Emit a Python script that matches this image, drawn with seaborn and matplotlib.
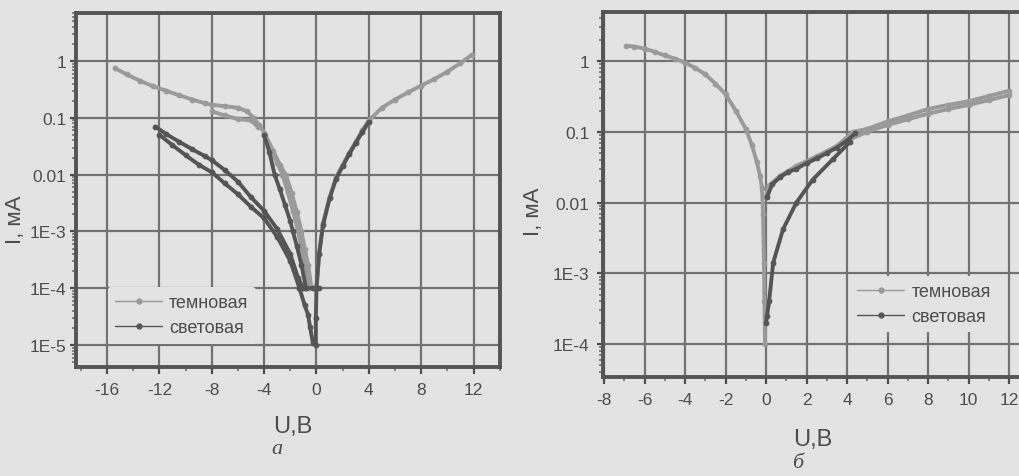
import matplotlib
matplotlib.use("Agg")
import matplotlib.pyplot as plt
from matplotlib.lines import Line2D
from matplotlib.ticker import FixedLocator, FixedFormatter, LogLocator, MultipleLocator, NullFormatter
import pandas as pd
import seaborn as sns

# ---------------- data ----------------
# panel a
dark_a_up_u = [-15.4, -14.5, -13.5, -12.5, -11.5, -10.5, -9.5, -8.5, -8.0, -7.0, -6.0, -5.3, -4.8, -4.4, -4.0]
dark_a_up_i = [0.75, 0.58, 0.45, 0.36, 0.30, 0.25, 0.21, 0.18, 0.17, 0.16, 0.15, 0.13, 0.10, 0.075, 0.055]
dark_a_lo_u = [-8.0, -7.0, -6.0, -5.0, -4.5]
dark_a_lo_i = [0.13, 0.11, 0.095, 0.09, 0.07]
dark_a_dn1_u = [-4.0, -3.5, -3.0, -2.6, -2.2, -1.8, -1.4, -1.15, -0.9, -0.6]
dark_a_dn1_i = [0.05, 0.027, 0.016, 0.01, 5e-3, 2.3e-3, 1e-3, 5e-4, 2.6e-4, 1e-4]
dark_a_dn2_u = [-3.9, -3.3, -2.8, -2.35, -1.9, -1.5, -1.15, -0.9, -0.64, -0.38]
dark_a_dn2_i = [0.05, 0.026, 0.015, 0.01, 4.8e-3, 2.2e-3, 1e-3, 5e-4, 2.6e-4, 1e-4]
dark_a_pos_u = [0.0, 0.2, 0.5, 1.0, 1.5, 2.0, 2.5, 3.0, 3.5, 4.0, 5.0, 6.0, 7.0, 8.0, 9.0, 10.0, 11.0, 11.9]
dark_a_pos_i = [1e-4, 4e-4, 1.4e-3, 4e-3, 9e-3, 0.015, 0.024, 0.038, 0.06, 0.09, 0.15, 0.21, 0.28, 0.37, 0.48, 0.65, 0.92, 1.3]

light_a_up_u = [-12.3, -11.5, -10.5, -9.5, -8.5, -8.0, -7.0, -6.0, -5.0, -4.0, -3.0, -2.0, -1.4, -1.0]
light_a_up_i = [0.07, 0.052, 0.038, 0.028, 0.021, 0.018, 0.012, 7.5e-3, 4e-3, 2.3e-3, 1.1e-3, 4e-4, 1.5e-4, 1e-4]
light_a_lo_u = [-12.0, -11.0, -10.0, -9.0, -8.0, -7.0, -6.0, -5.0, -4.0, -3.0, -2.0, -1.3, -0.9, -0.64, -0.5, -0.28]
light_a_lo_i = [0.05, 0.033, 0.022, 0.015, 0.011, 7e-3, 4.5e-3, 2.7e-3, 1.7e-3, 8e-4, 3e-4, 1e-4, 5e-5, 3.4e-5, 2.1e-5, 1.1e-5]
light_a_dn_u = [-4.0, -3.6, -3.2, -2.8, -2.4, -2.0, -1.8, -1.5, -1.15, -0.8]
light_a_dn_i = [0.05, 0.025, 0.01, 5.5e-3, 2.9e-3, 1.5e-3, 1e-3, 5.5e-4, 2.6e-4, 1e-4]
light_a_flat_u = [-1.3, -0.8, -0.3, 0.2]
light_a_flat_i = [1e-4, 1e-4, 1e-4, 1e-4]
light_a_pos_u = [-0.05, -0.05, 0.0, 0.2, 0.5, 1.0, 1.5, 2.0, 2.5, 3.0, 3.5, 4.0]
light_a_pos_i = [1e-5, 3e-5, 1e-4, 4e-4, 1.3e-3, 3.8e-3, 8.5e-3, 0.014, 0.023, 0.036, 0.056, 0.085]

# panel б
dark_b_neg_u = [-6.9, -6.5, -6.0, -5.5, -5.0, -4.5, -4.0, -3.5, -3.0, -2.5, -2.0, -1.5, -1.0, -0.7,
                -0.45, -0.3, -0.2, -0.15, -0.1, -0.08, -0.05]
dark_b_neg_i = [1.65, 1.6, 1.5, 1.35, 1.2, 1.08, 0.95, 0.8, 0.65, 0.48, 0.34, 0.2, 0.11, 0.065,
                0.037, 0.024, 0.016, 7e-3, 1.4e-3, 4e-4, 1e-4]
dark_b_up_u = [0.0, 0.1, 0.7, 1.5, 2.5, 3.5, 4.3, 5.0, 6.0, 7.0, 8.0, 9.0, 10.0, 11.0, 12.0]
dark_b_up_i = [0.012, 0.017, 0.024, 0.033, 0.045, 0.063, 0.10, 0.11, 0.14, 0.17, 0.21, 0.24, 0.27, 0.32, 0.38]
dark_b_lo_u = [4.0, 5.0, 6.0, 7.0, 8.0, 9.0, 10.0, 11.0, 12.0]
dark_b_lo_i = [0.075, 0.10, 0.125, 0.15, 0.18, 0.21, 0.24, 0.28, 0.33]

light_b_lo_u = [0.0, 0.05, 0.15, 0.35, 0.84, 1.5, 2.3, 3.3, 4.15]
light_b_lo_i = [2e-4, 2.5e-4, 4e-4, 1.4e-3, 4.2e-3, 0.01, 0.021, 0.041, 0.072]
light_b_up_u = [0.05, 0.3, 0.7, 1.1, 1.5, 2.0, 2.5, 3.0, 3.5, 4.0, 4.4]
light_b_up_i = [0.012, 0.018, 0.023, 0.027, 0.03, 0.036, 0.042, 0.05, 0.06, 0.075, 0.095]

series_names = ["темновая", "световая"]
series_colors = ["#9a9a9a", "#555555"]

ytick_a = [1e-5, 1e-4, 1e-3, 0.01, 0.1, 1]
ylab_a = ["1E-5", "1E-4", "1E-3", "0.01", "0.1", "1"]
xtick_a = [-16, -12, -8, -4, 0, 4, 8, 12]
ytick_b = [1e-4, 1e-3, 0.01, 0.1, 1]
ylab_b = ["1E-4", "1E-3", "0.01", "0.1", "1"]
xtick_b = [-8, -6, -4, -2, 0, 2, 4, 6, 8, 10, 12]


def make_df(branches):
    rows = []
    for k, (name, us, ys) in enumerate(branches):
        for u, y in zip(us, ys):
            rows.append({"U": u, "I": y, "series": name, "branch": k})
    return pd.DataFrame(rows)


df_a = make_df([
    ("темновая", dark_a_up_u, dark_a_up_i),
    ("темновая", dark_a_lo_u, dark_a_lo_i),
    ("темновая", dark_a_dn1_u, dark_a_dn1_i),
    ("темновая", dark_a_dn2_u, dark_a_dn2_i),
    ("темновая", dark_a_pos_u, dark_a_pos_i),
    ("световая", light_a_up_u, light_a_up_i),
    ("световая", light_a_lo_u, light_a_lo_i),
    ("световая", light_a_dn_u, light_a_dn_i),
    ("световая", light_a_flat_u, light_a_flat_i),
    ("световая", light_a_pos_u, light_a_pos_i),
])
df_b = make_df([
    ("темновая", dark_b_neg_u, dark_b_neg_i),
    ("темновая", dark_b_up_u, dark_b_up_i),
    ("темновая", dark_b_lo_u, dark_b_lo_i),
    ("световая", light_b_lo_u, light_b_lo_i),
    ("световая", light_b_up_u, light_b_up_i),
])

# ---------------- style ----------------
bg = "#e3e3e3"
ink = "#4d4d4d"
gridc = "#727272"
sns.set_style("ticks")
plt.rcParams["font.family"] = ["Liberation Sans", "DejaVu Sans"]
plt.rcParams["axes.unicode_minus"] = False
plt.rcParams["text.color"] = ink
plt.rcParams["axes.labelcolor"] = ink
plt.rcParams["xtick.color"] = ink
plt.rcParams["ytick.color"] = ink

fig = plt.figure(figsize=(10.19, 4.77), dpi=100, facecolor=bg)
ax_a = fig.add_axes([0.0746, 0.2285, 0.4161, 0.7421])
ax_b = fig.add_axes([0.5918, 0.2075, 0.4141, 0.7658])


def style_axes(ax, df, xticks, xminor, yticks, ylabels, xlim, ylim, ypad):
    ax.set_facecolor(bg)
    ax.set_yscale("log")
    for name, color in zip(series_names, series_colors):
        sub = df[df["series"] == name]
        sns.lineplot(data=sub, x="U", y="I", units="branch", estimator=None, sort=False,
                     color=color, lw=2.8, marker="o", ms=3.4, mec=color, legend=False, ax=ax)
    ax.set_xlim(*xlim)
    ax.set_ylim(*ylim)
    ax.xaxis.set_major_locator(FixedLocator(xticks))
    ax.xaxis.set_minor_locator(MultipleLocator(xminor))
    ax.yaxis.set_major_locator(FixedLocator(yticks))
    ax.yaxis.set_major_formatter(FixedFormatter(ylabels))
    ax.yaxis.set_minor_locator(LogLocator(base=10, subs=range(2, 10), numticks=20))
    ax.yaxis.set_minor_formatter(NullFormatter())
    ax.grid(True, which="major", color=gridc, lw=1.6)
    ax.set_axisbelow(True)
    ax.tick_params(which="major", direction="out", length=5, width=1.6, pad=6, labelsize=12.5, colors=ink)
    ax.tick_params(axis="y", which="major", length=4, pad=ypad)
    ax.tick_params(which="minor", direction="out", length=3, width=1.2, colors=gridc)
    for s in ax.spines.values():
        s.set_color("#555555")
        s.set_linewidth(2.8)
    ax.set_xlabel("U,B", fontsize=17)
    ax.set_ylabel("I, мА", fontsize=16)
    handles = [Line2D([], [], color=c, lw=1.0, marker="o", ms=3.5) for c in series_colors]
    return handles


h = style_axes(ax_a, df_a, xtick_a, 2, ytick_a, ylab_a, (-18.37, 14.02), (4.1e-6, 7.0), 3)
style_axes(ax_b, df_b, xtick_b, 1, ytick_b, ylab_b, (-8.05, 12.79), (3.42e-5, 4.98), 6)

ax_a.xaxis.set_label_coords(0.512, -0.135)
ax_a.yaxis.set_label_coords(-0.118, 0.42)
ax_b.xaxis.set_label_coords(0.498, -0.14)
ax_b.yaxis.set_label_coords(-0.139, 0.455)

leg_kw = dict(frameon=True, facecolor=bg, edgecolor="none", framealpha=1, fontsize=13,
              handlelength=2.6, labelspacing=0.45, borderpad=0.4, handletextpad=0.4, borderaxespad=0)
ax_a.legend(h, series_names, loc="upper left", bbox_to_anchor=(0.075, 0.226), **leg_kw)
ax_b.legend(h, series_names, loc="upper left", bbox_to_anchor=(0.585, 0.277), **leg_kw)

fig.text(277 / 1019, 1 - 450 / 477, "а", fontsize=16, style="italic",
         family=["Liberation Serif", "DejaVu Serif"], ha="center", va="center")
fig.text(798 / 1019, 1 - 464 / 477, "б", fontsize=16, style="italic",
         family=["Liberation Serif", "DejaVu Serif"], ha="center", va="center")

fig.savefig("out.png", dpi=100, facecolor=bg)
